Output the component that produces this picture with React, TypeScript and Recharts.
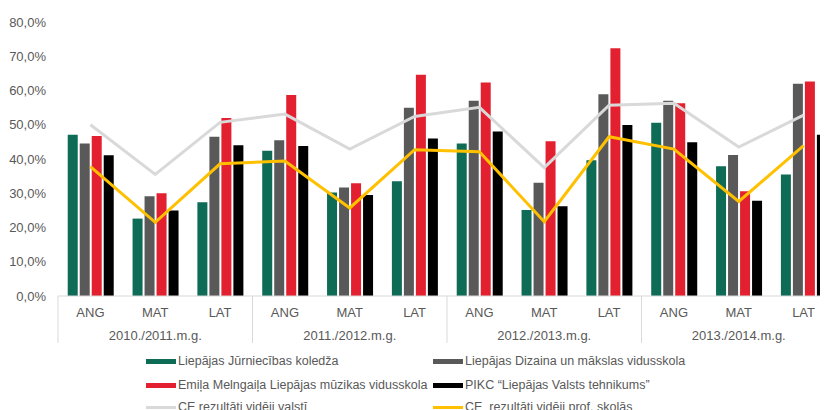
import { ComposedChart, Bar, Line, XAxis, YAxis } from 'recharts'

const subjects = ['ANG', 'MAT', 'LAT', 'ANG', 'MAT', 'LAT', 'ANG', 'MAT', 'LAT', 'ANG', 'MAT', 'LAT']
const years = ['2010./2011.m.g.', '2011./2012.m.g.', '2012./2013.m.g.', '2013./2014.m.g.']

const jurniecibas = [47.1, 22.6, 27.4, 42.4, 30.2, 33.5, 44.5, 25.1, 39.6, 50.6, 37.9, 35.5]
const dizaina = [44.5, 29.1, 46.5, 45.5, 31.7, 55.0, 57.0, 33.1, 58.9, 57.0, 41.2, 62.0]
const muzikas = [46.7, 30.0, 52.0, 58.7, 32.9, 64.6, 62.3, 45.2, 72.3, 56.3, 30.6, 62.6]
const tehnikums = [41.1, 25.0, 44.0, 43.8, 29.5, 46.0, 48.0, 26.2, 49.9, 44.9, 27.8, 47.1]
const valsti = [50.0, 35.5, 50.7, 53.1, 42.9, 52.4, 55.1, 37.5, 55.7, 56.3, 43.5, 52.8]
const profSkolas = [37.8, 21.5, 38.6, 39.4, 25.7, 42.7, 42.1, 21.7, 46.5, 42.9, 27.6, 43.9]

const yTicks = [0, 10, 20, 30, 40, 50, 60, 70, 80]

const SERIES = [
  { key: 'jurniecibas', name: 'Liepājas Jūrniecības koledža', color: '#0e6b55', type: 'bar' },
  { key: 'dizaina', name: 'Liepājas Dizaina un mākslas vidusskola', color: '#595959', type: 'bar' },
  { key: 'muzikas', name: 'Emiļa Melngaiļa Liepājas mūzikas vidusskola', color: '#e3202f', type: 'bar' },
  { key: 'tehnikums', name: 'PIKC “Liepājas Valsts tehnikums”', color: '#000000', type: 'bar' },
  { key: 'valsti', name: 'CE rezultāti vidēji valstī', color: '#d9d9d9', type: 'line' },
  { key: 'profSkolas', name: 'CE  rezultāti vidēji prof. skolās', color: '#ffc000', type: 'line' },
]

const data = subjects.map((subject, i) => ({
  subject,
  year: years[Math.floor(i / 3)],
  jurniecibas: jurniecibas[i],
  dizaina: dizaina[i],
  muzikas: muzikas[i],
  tehnikums: tehnikums[i],
  valsti: valsti[i],
  profSkolas: profSkolas[i],
}))

const FONT = '"Liberation Sans", Arial, sans-serif'
const TEXT = '#595959'
const CHART_W = 840
const CHART_H = 402
const MARGIN = { top: 14, right: 12, bottom: 58, left: 0 }
const Y_W = 50
const BAND = (CHART_W - MARGIN.left - MARGIN.right - Y_W) / subjects.length

const TwoLevelTick = ({ x, y, payload, index }: any) => {
  const left = x - BAND / 2
  const right = x + BAND / 2
  return (
    <g>
      <text x={x} y={y + 16} textAnchor="middle" dominantBaseline="central" fill={TEXT} fontSize={13} fontFamily={FONT}>
        {payload.value}
      </text>
      {index % 3 === 1 && (
        <text x={x} y={y + 39} textAnchor="middle" dominantBaseline="central" fill={TEXT} fontSize={13} fontFamily={FONT}>
          {years[Math.floor(index / 3)]}
        </text>
      )}
      {index % 3 === 0 && <line x1={left} x2={left} y1={y} y2={y + 47} stroke="#d9d9d9" />}
      {index === subjects.length - 1 && <line x1={right} x2={right} y1={y} y2={y + 47} stroke="#d9d9d9" />}
    </g>
  )
}

function LegendBox() {
  const col = [138, 425]
  const rows = [353, 377, 399]
  return (
    <>
      {SERIES.map((s, i) => (
        <div
          key={s.key}
          style={{
            position: 'absolute',
            left: col[i % 2],
            top: rows[Math.floor(i / 2)] - 9,
            height: 18,
            display: 'flex',
            alignItems: 'center',
            fontFamily: FONT,
            fontSize: 12.5,
            color: TEXT,
            whiteSpace: 'pre',
          }}
        >
          <span
            style={{
              display: 'inline-block',
              width: 30,
              height: s.type === 'bar' ? 5 : 3,
              background: s.color,
              marginRight: 2,
            }}
          />
          {s.name}
        </div>
      ))}
    </>
  )
}

export default function App() {
  return (
    <div style={{ position: 'relative', width: 820, height: CHART_H, overflow: 'hidden', background: '#fff' }}>
      <ComposedChart
        width={CHART_W}
        height={CHART_H}
        data={data}
        margin={MARGIN}
        barCategoryGap="15%"
        barGap={2}
      >
        <XAxis
          dataKey="subject"
          interval={0}
          height={56}
          tickSize={0}
          tickMargin={0}
          tickLine={false}
          axisLine={{ stroke: '#d9d9d9' }}
          tick={<TwoLevelTick />}
        />
        <YAxis
          width={Y_W}
          domain={[0, 80]}
          ticks={yTicks}
          interval={0}
          axisLine={false}
          tickLine={false}
          tickSize={0}
          tickMargin={12}
          tick={{ fill: TEXT, fontSize: 13, fontFamily: FONT }}
          tickFormatter={(v: number) => v.toFixed(1).replace('.', ',') + '%'}
        />
        {SERIES.filter((s) => s.type === 'bar').map((s) => (
          <Bar key={s.key} dataKey={s.key} name={s.name} fill={s.color} isAnimationActive={false} />
        ))}
        {SERIES.filter((s) => s.type === 'line').map((s) => (
          <Line
            key={s.key}
            dataKey={s.key}
            name={s.name}
            stroke={s.color}
            strokeWidth={3}
            dot={false}
            activeDot={false}
            type="linear"
            isAnimationActive={false}
          />
        ))}
      </ComposedChart>
      <LegendBox />
    </div>
  )
}
